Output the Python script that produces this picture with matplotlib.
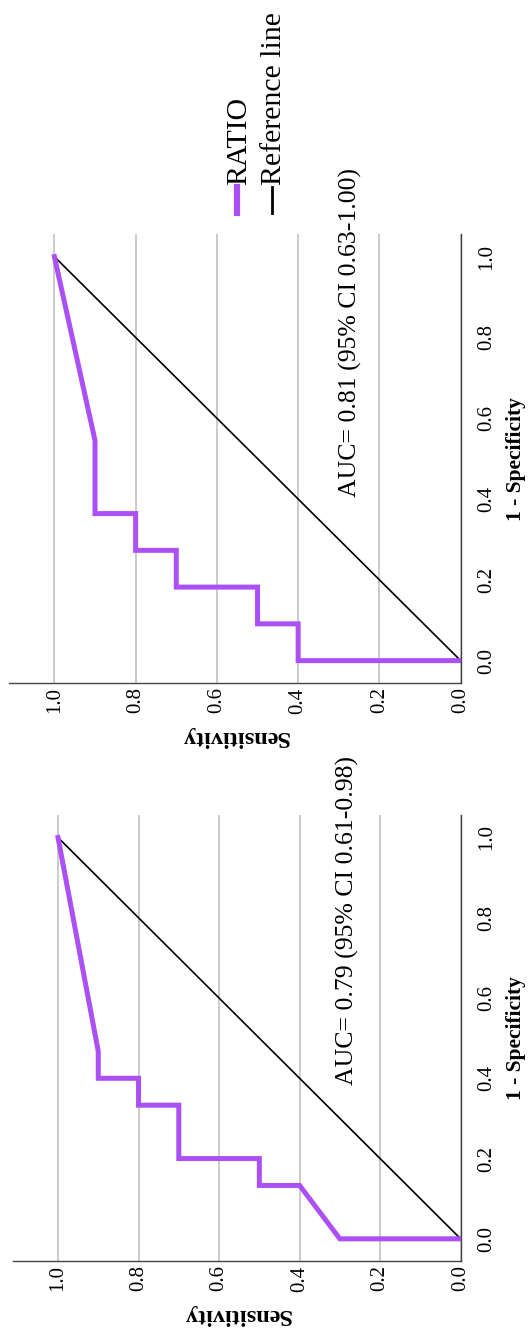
import matplotlib.pyplot as plt
from matplotlib.lines import Line2D

plt.rcParams['font.family'] = ['Liberation Serif', 'DejaVu Serif']

# ROC points, (1 - specificity, sensitivity)
fpr_a = [0, 0, 0.091, 0.091, 0.182, 0.182, 0.273, 0.273, 0.364, 0.364, 0.545, 1.0]
sens_a = [0, 0.4, 0.4, 0.5, 0.5, 0.7, 0.7, 0.8, 0.8, 0.9, 0.9, 1.0]
fpr_b = [0, 0, 0.133, 0.133, 0.2, 0.2, 0.333, 0.333, 0.4, 0.4, 0.467, 1.0]
sens_b = [0, 0.3, 0.4, 0.5, 0.5, 0.7, 0.7, 0.8, 0.8, 0.9, 0.9, 1.0]
ref_line = [0, 1]
auc_labels = ["AUC= 0.81 (95% CI 0.63-1.00)", "AUC= 0.79 (95% CI 0.61-0.98)"]
ticks = [0.0, 0.2, 0.4, 0.6, 0.8, 1.0]
tick_labels = ["0.0", "0.2", "0.4", "0.6", "0.8", "1.0"]

purple = "#aa50f5"

fig = plt.figure(figsize=(5.28, 13.35), dpi=100)
ax_top = fig.add_axes([0.0176, 0.4882, 0.8549, 0.3365])
ax_bot = fig.add_axes([0.0252, 0.0552, 0.8473, 0.3343])

panels = [
    (ax_top, fpr_a, sens_a, auc_labels[0], (0.272, 0.406)),
    (ax_bot, fpr_b, sens_b, auc_labels[1], (0.28, 0.383)),
]

for ax, fpr, sens, auc, pos in panels:
    # chart is drawn turned a quarter: sensitivity runs right-to-left, 1-spec upward
    ax.plot(ref_line, ref_line, color="black", lw=1.2, zorder=3)
    ax.plot(sens, fpr, color=purple, lw=3.6, zorder=4, solid_joinstyle="miter")
    ax.set_xlim(1.111, 0)
    ax.set_ylim(-0.056, 1.056)
    ax.set_xticks(ticks)
    ax.set_xticklabels(tick_labels, rotation=90, fontsize=15)
    ax.set_yticks(ticks)
    ax.set_yticklabels(tick_labels, rotation=90, fontsize=15, va="center")
    ax.yaxis.tick_right()
    ax.yaxis.set_label_position("right")
    ax.tick_params(axis="x", length=0, pad=3)
    ax.tick_params(axis="y", length=0, pad=12)
    ax.xaxis.grid(True, color="#bdbdbd", lw=1.1)
    ax.yaxis.grid(False)
    ax.set_axisbelow(True)
    for side in ["left", "top"]:
        ax.spines[side].set_visible(False)
    for side in ["bottom", "right"]:
        ax.spines[side].set_color("#444444")
        ax.spines[side].set_linewidth(1.0)
    ax.set_xlabel("Sensitivity", fontsize=17.5, fontweight="bold", rotation=180, labelpad=9)
    ax.set_ylabel("1 - Specificity", fontsize=15.5, fontweight="bold", rotation=90, labelpad=7)
    ax.text(pos[0], pos[1], auc, rotation=90, ha="center", va="bottom", fontsize=18.5)

# legend, turned like the rest
fig.add_artist(Line2D([0.4488, 0.4488], [0.8404, 0.8599], color=purple, lw=4.5))
fig.add_artist(Line2D([0.5152, 0.5152], [0.8404, 0.8599], color="black", lw=2))
fig.text(0.4527, 0.8614, "RATIO", rotation=90, ha="center", va="bottom", fontsize=21.5)
fig.text(0.519, 0.8614, "Reference line", rotation=90, ha="center", va="bottom", fontsize=21.5)

fig.savefig("out.png", dpi=100)
